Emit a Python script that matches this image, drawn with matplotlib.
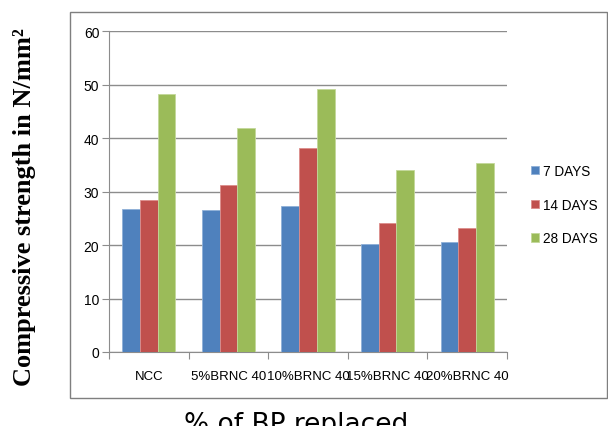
import matplotlib.pyplot as plt
import numpy as np
from matplotlib.patches import Rectangle

categories = ["NCC", "5%BRNC 40", "10%BRNC 40", "15%BRNC 40", "20%BRNC 40"]
days_7 = [26.8, 26.6, 27.2, 20.2, 20.5]
days_14 = [28.5, 31.3, 38.1, 24.1, 23.2]
days_28 = [48.3, 41.8, 49.1, 34.0, 35.4]
series_names = ["7 DAYS", "14 DAYS", "28 DAYS"]

colors = ["#4F81BD", "#C0504D", "#9BBB59"]
edges = ["#8FB0D8", "#DC8D8B", "#C3D89A"]

plt.rcParams['font.family'] = ['Liberation Sans', 'DejaVu Sans']

fig = plt.figure(figsize=(6.08, 4.27), dpi=100)
ax = fig.add_axes([109/608, 1-353/427, 398/608, 321/427])

x = np.arange(len(categories))
w = 0.222
for i, vals in enumerate([days_7, days_14, days_28]):
    ax.bar(x + (i-1)*w, vals, w, color=colors[i], edgecolor=edges[i],
           linewidth=0.6, label=series_names[i], zorder=3)

ax.set_xlim(-0.5, len(categories)-0.5)
ax.set_ylim(0, 60)
ax.set_yticks(range(0, 61, 10))
ax.yaxis.grid(True, color="#8c8c8c", linewidth=1.0, zorder=0)

# category boundary ticks, labels at centers
ax.set_xticks(np.arange(-0.5, len(categories), 1.0))
ax.set_xticklabels([])
ax.set_xticks(x, minor=True)
ax.set_xticklabels(categories, minor=True, fontsize=9.5)
ax.tick_params(axis='x', which='major', length=5, color="#8c8c8c", direction='out')
ax.tick_params(axis='x', which='minor', length=0, pad=13)
ax.tick_params(axis='y', length=5, color="#8c8c8c", pad=2, labelsize=10)

for s in ["top", "right"]:
    ax.spines[s].set_visible(False)
for s in ["left", "bottom"]:
    ax.spines[s].set_color("#8c8c8c")

ax.legend(loc="center left", bbox_to_anchor=(1.0425, 0.459), frameon=False,
          fontsize=9.8, handlelength=0.6, handleheight=0.6, handletextpad=0.3,
          labelspacing=1.45, borderpad=0)

# outer chart border
fig.patches.append(Rectangle((70/608, 1-399/427), 537/608, 386/427,
                             transform=fig.transFigure, fill=False,
                             edgecolor="#7f7f7f", linewidth=1.0))

fig.text(25/608, 1-207/427, "Compressive strength in N/mm²", rotation=90,
         ha="center", va="center", fontsize=19, fontweight="bold",
         family="Liberation Serif")
fig.text(296/608, 1-412/427, "% of BP replaced", ha="center", va="top",
         fontsize=19, family="DejaVu Sans")

fig.savefig("out.png", dpi=100)
